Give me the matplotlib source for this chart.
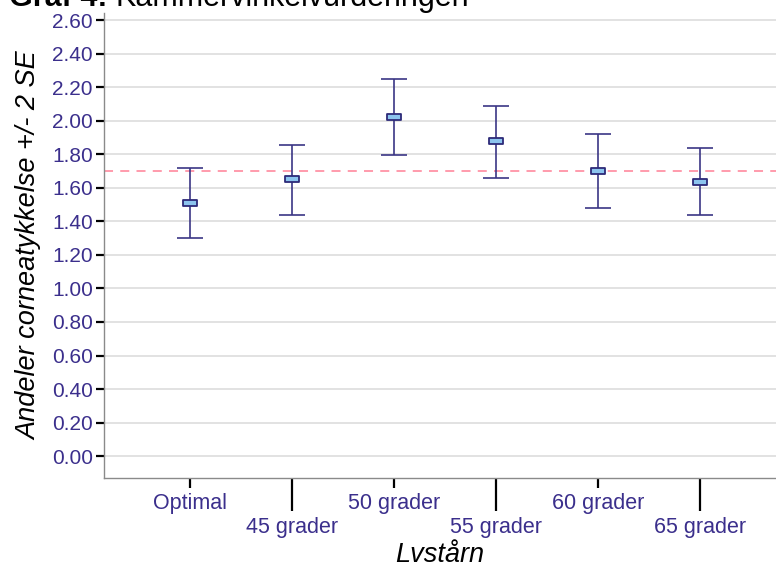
import matplotlib.pyplot as plt
from matplotlib.path import Path
import numpy as np

# data
groups = ['Optimal', '45 grader', '50 grader', '55 grader', '60 grader', '65 grader']
means = [1.51, 1.65, 2.02, 1.88, 1.70, 1.635]
upper = [1.72, 1.855, 2.25, 2.09, 1.92, 1.835]
lower = [1.30, 1.44, 1.795, 1.66, 1.48, 1.435]
ref_line = 1.70
yticks = np.round(np.arange(0, 2.61, 0.2), 2)

plt.rcParams['font.family'] = ['Liberation Sans', 'DejaVu Sans']

line_col = '#3a3585'
label_col = '#3b2f8c'

fig = plt.figure(figsize=(7.76, 5.65), dpi=100)
ax = fig.add_axes([0.134, 0.154, 0.866, 0.823])

x = np.arange(len(groups))
means = np.array(means)
err = [means - np.array(lower), np.array(upper) - means]

# gridlines and reference line
for v in yticks:
    ax.axhline(v, color='#e2e2e2', lw=1.4, zorder=0)
ax.axhline(ref_line, color='#ff93a6', lw=1.3, ls=(0, (5, 4)), zorder=1)

# error bars
ax.errorbar(x, means, yerr=err, fmt='none', ecolor=line_col, elinewidth=1.4,
            capsize=9.4, capthick=1.4, alpha=0.85, zorder=2)

# mean boxes (wide rectangle marker)
box = Path([(-1, -0.45), (1, -0.45), (1, 0.45), (-1, 0.45), (-1, -0.45)],
           [Path.MOVETO, Path.LINETO, Path.LINETO, Path.LINETO, Path.CLOSEPOLY])
ax.plot(x, means, ls='none', marker=box, markersize=9.5,
        markerfacecolor='#8cc4ee', markeredgecolor='#2d2a78', markeredgewidth=1.3, zorder=3)

ax.set_xlim(-0.845, 5.745)
ax.set_ylim(-0.13, 2.642)

ax.set_yticks(yticks)
ax.set_yticklabels([f'{v:.2f}' for v in yticks], color=label_col, fontsize=15)
ax.tick_params(axis='y', length=6, width=1.6, color='black', pad=2)

# alternating short/long x ticks
ax.set_xticks(x[::2])
ax.set_xticklabels(groups[::2], color=label_col, fontsize=15.5)
ax.set_xticks(x[1::2], minor=True)
ax.set_xticklabels(groups[1::2], minor=True, color=label_col, fontsize=15.5)
ax.tick_params(axis='x', which='major', length=7, width=1.6, color='black', pad=4)
ax.tick_params(axis='x', which='minor', length=24, width=1.6, color='black', pad=4)

for s in ['top', 'right']:
    ax.spines[s].set_visible(False)
for s in ['left', 'bottom']:
    ax.spines[s].set_color('#8a8a8a')
    ax.spines[s].set_linewidth(1.0)

ax.set_ylabel('Andeler corneatykkelse +/- 2 SE', fontsize=19.5, style='italic', labelpad=7)
ax.set_xlabel('Lvstårn', fontsize=19.5, style='italic', labelpad=3)

# title, partly clipped at the top edge as in the reference
t1 = fig.text(0.012, 1.003, 'Graf 4:', fontsize=22, fontweight='bold', va='center', ha='left')
fig.canvas.draw()
bb = t1.get_window_extent()
fig.text((bb.x1 + 8) / fig.bbox.width, 1.003, 'Kammervinkelvurderingen', fontsize=22,
         va='center', ha='left')

fig.savefig('out.png', dpi=100)
